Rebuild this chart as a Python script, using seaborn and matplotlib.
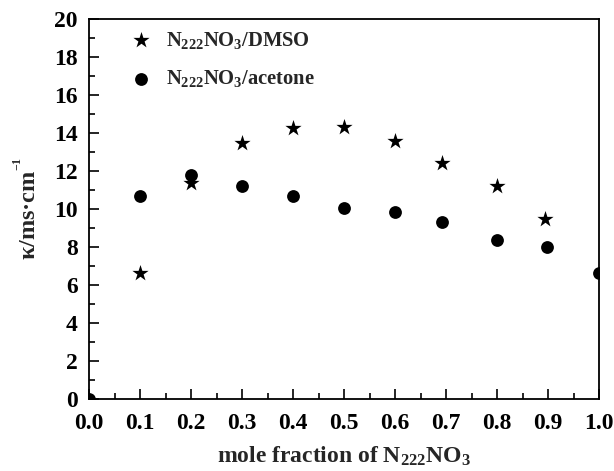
import matplotlib
matplotlib.use("Agg")
import matplotlib.pyplot as plt
import seaborn as sns
import pandas as pd
from matplotlib.ticker import MultipleLocator, FormatStrFormatter

dmso_x = [0.1, 0.2, 0.3, 0.4, 0.5, 0.6, 0.693, 0.8, 0.894]
dmso_y = [6.63, 11.35, 13.48, 14.25, 14.33, 13.56, 12.40, 11.21, 9.45]
acet_x = [0.0, 0.1, 0.2, 0.3, 0.4, 0.5, 0.6, 0.693, 0.8, 0.898, 1.0]
acet_y = [0.0, 10.68, 11.78, 11.21, 10.70, 10.05, 9.85, 9.31, 8.35, 8.01, 6.64]

sns.set_theme(style="ticks")
plt.rcParams['font.family'] = ['Liberation Serif', 'DejaVu Serif']
plt.rcParams['font.weight'] = 'bold'
plt.rcParams['mathtext.fontset'] = 'custom'
plt.rcParams['mathtext.rm'] = 'Liberation Serif:bold'
plt.rcParams['mathtext.it'] = 'Liberation Serif:bold'
plt.rcParams['mathtext.bf'] = 'Liberation Serif:bold'

fig = plt.figure(figsize=(6.14, 4.71), dpi=100)
ax = fig.add_axes([0.145, 0.1535, 0.8306, 0.8062])

d1 = pd.DataFrame({"x": dmso_x, "y": dmso_y})
d2 = pd.DataFrame({"x": acet_x, "y": acet_y})
sns.scatterplot(data=d1, x="x", y="y", marker="*", s=150, color="black",
                edgecolor="black", linewidth=0, ax=ax,
                label=r"N$_{222}$NO$_{3}$/DMSO")
sns.scatterplot(data=d2, x="x", y="y", marker="o", s=85, color="black",
                edgecolor="black", linewidth=0, ax=ax,
                label=r"N$_{222}$NO$_{3}$/acetone")

ax.set_xlim(0, 1.0)
ax.set_ylim(0, 20)
ax.xaxis.set_major_locator(MultipleLocator(0.1))
ax.xaxis.set_minor_locator(MultipleLocator(0.05))
ax.xaxis.set_major_formatter(FormatStrFormatter('%.1f'))
ax.yaxis.set_major_locator(MultipleLocator(2))
ax.yaxis.set_minor_locator(MultipleLocator(1))
ax.tick_params(which='both', direction='in', top=False, right=False,
               labelsize=17, width=1.2, colors='black')
ax.tick_params(which='major', length=7)
ax.tick_params(which='minor', length=4)
for sp in ax.spines.values():
    sp.set_linewidth(1.3)
    sp.set_color('black')
ax.tick_params(axis='x', pad=10)
ax.tick_params(axis='y', pad=8)
for lab in ax.get_xticklabels() + ax.get_yticklabels():
    lab.set_fontweight('bold')

ax.set_xlabel(r"mole fraction of N$_{222}$NO$_{3}$", fontsize=17,
              fontweight='bold', labelpad=8)
ax.set_ylabel(r"κ/ms·cm$^{^{-1}}$", fontsize=17.5, fontweight='bold', labelpad=10)

leg = ax.legend(loc='upper left', frameon=False, fontsize=14.8,
                bbox_to_anchor=(0.033, 1.01), handletextpad=0.25,
                labelspacing=0.85, markerscale=1.0, borderaxespad=0.3)
for t in leg.get_texts():
    t.set_fontweight('bold')

fig.savefig("out.png", dpi=100)
